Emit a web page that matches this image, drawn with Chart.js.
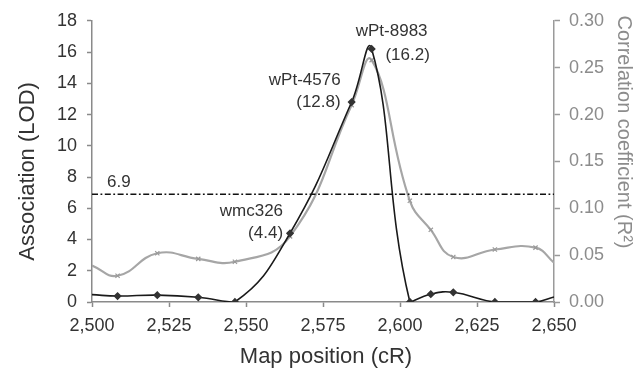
<!DOCTYPE html>
<html lang="en">
<head>
    <meta charset="UTF-8">
    <title>Association and correlation along map position</title>
    <script src="https://cdn.jsdelivr.net/npm/chart.js"></script>
    <style>
        html, body { margin: 0; padding: 0; background: #fff; }
        #wrap { width: 636px; height: 369px; }
    </style>
</head>
<body>
    <div id="wrap"><canvas id="lodChart" width="636" height="369"></canvas></div>

    <script>
        // Map positions (cR) shared by both series
        const positions = [2500, 2508.3, 2521.2, 2534.5, 2546.4, 2564.3, 2584.3, 2590.8, 2603.2, 2610, 2617.3, 2630.8, 2644, 2650];
        // Association (LOD), left axis
        const lodValues = [0.47, 0.38, 0.44, 0.3, 0, 4.4, 12.8, 16.2, 0, 0.5, 0.62, 0, 0, 0.32];
        // Correlation coefficient (R2), right axis
        const r2Values = [0.039, 0.028, 0.052, 0.046, 0.043, 0.07, 0.21, 0.258, 0.108, 0.077, 0.048, 0.056, 0.058, 0.042];
        // Significance threshold
        const thresholdX = [2500, 2650];
        const threshold = 6.9;
        // Marker labels: index into positions, name, value
        const markerIdx = [5, 6, 7];
        const markerNames = ['wmc326', 'wPt-4576', 'wPt-8983'];
        const markerLod = ['(4.4)', '(12.8)', '(16.2)'];
        // Axis ticks
        const xTicks = [2500, 2525, 2550, 2575, 2600, 2625, 2650];
        const lodTicks = [0, 2, 4, 6, 8, 10, 12, 14, 16, 18];
        const r2Ticks = [0, 0.05, 0.10, 0.15, 0.20, 0.25, 0.30];

        const FONT = '"Liberation Sans", Arial, sans-serif';
        const DARK = '#333333';
        const GREY = '#8c8c8c';

        const toPoints = (xs, ys) => xs.map((x, i) => ({ x: x, y: ys[i] }));
        const edgeRadius = (r) => positions.map((p, i) => (i === 0 || i === positions.length - 1) ? 0 : r);

        // Draws the axis titles, threshold label and marker labels
        const textPlugin = {
            id: 'texts',
            afterDraw(chart) {
                const ctx = chart.ctx;
                const area = chart.chartArea;
                const xs = chart.scales.x, ys = chart.scales.y;
                ctx.save();
                ctx.textBaseline = 'middle';

                // axis titles
                ctx.font = '22px ' + FONT;
                ctx.fillStyle = DARK;
                ctx.textAlign = 'center';
                ctx.fillText('Map position (cR)', (area.left + area.right) / 2 + 3, 357);

                ctx.save();
                ctx.translate(28, (area.top + area.bottom) / 2 + 10);
                ctx.rotate(-Math.PI / 2);
                ctx.fillText('Association (LOD)', 0, 0);
                ctx.restore();

                ctx.save();
                ctx.fillStyle = GREY;
                ctx.font = '20px ' + FONT;
                ctx.translate(624, 132);
                ctx.rotate(Math.PI / 2);
                ctx.fillText('Correlation coefficient (R\u00B2)', 0, 0);
                ctx.restore();

                // threshold label
                ctx.font = '17px ' + FONT;
                ctx.fillStyle = DARK;
                ctx.textAlign = 'left';
                ctx.fillText(String(threshold), area.left + 15, ys.getPixelForValue(threshold) - 12);

                // marker labels
                markerIdx.forEach((idx, k) => {
                    const px = xs.getPixelForValue(positions[idx]);
                    const py = ys.getPixelForValue(lodValues[idx]);
                    if (k === 2) {
                        ctx.textAlign = 'center';
                        ctx.fillText(markerNames[k], px + 20, py - 18);
                        ctx.fillText(markerLod[k], px + 36, py + 6);
                    } else {
                        ctx.textAlign = 'right';
                        const gap = k === 0 ? 7 : 11;
                        ctx.fillText(markerNames[k], px - gap, py - 22);
                        ctx.fillText(markerLod[k], px - gap, py);
                    }
                });
                ctx.restore();
            }
        };

        new Chart(document.getElementById('lodChart').getContext('2d'), {
            type: 'line',
            data: {
                datasets: [{
                    label: 'Threshold',
                    data: toPoints(thresholdX, [threshold, threshold]),
                    borderColor: '#111111',
                    borderWidth: 1.5,
                    borderDash: [6, 2.5, 1.8, 2.5],
                    pointRadius: 0,
                    tension: 0,
                    yAxisID: 'y'
                }, {
                    label: 'LOD',
                    data: toPoints(positions, lodValues),
                    borderColor: '#1a1a1a',
                    borderWidth: 1.6,
                    pointStyle: 'rectRot',
                    pointRadius: edgeRadius(3),
                    pointBackgroundColor: '#333333',
                    pointBorderColor: '#333333',
                    tension: 0.45,
                    yAxisID: 'y'
                }, {
                    label: 'R2',
                    data: toPoints(positions, r2Values),
                    borderColor: '#a6a6a6',
                    borderWidth: 2.2,
                    pointStyle: 'crossRot',
                    pointRadius: edgeRadius(3),
                    pointBorderColor: '#9a9a9a',
                    pointBorderWidth: 1.2,
                    tension: 0.45,
                    yAxisID: 'y1'
                }]
            },
            options: {
                responsive: false,
                animation: false,
                layout: { padding: { top: 20, bottom: 0, left: 0, right: 0 } },
                plugins: { legend: { display: false }, tooltip: { enabled: false } },
                scales: {
                    x: {
                        type: 'linear',
                        min: 2500,
                        max: 2650,
                        afterFit: (s) => { s.height = 67; },
                        afterBuildTicks: (s) => { s.ticks = xTicks.map(v => ({ value: v })); },
                        border: { color: '#8a8a8a', width: 1.5 },
                        grid: { drawOnChartArea: false, tickLength: 5, color: '#8a8a8a', tickWidth: 1.5 },
                        ticks: {
                            color: DARK,
                            padding: 8,
                            maxRotation: 0,
                            font: { family: FONT, size: 18 },
                            callback: (v) => v.toLocaleString('en-US')
                        }
                    },
                    y: {
                        position: 'left',
                        min: 0,
                        max: 18,
                        afterFit: (s) => { s.width = 92; },
                        afterBuildTicks: (s) => { s.ticks = lodTicks.map(v => ({ value: v })); },
                        border: { color: '#8a8a8a', width: 1.5 },
                        grid: { drawOnChartArea: false, tickLength: 5, color: '#8a8a8a', tickWidth: 1.5 },
                        ticks: { color: DARK, padding: 10, font: { family: FONT, size: 18 } }
                    },
                    y1: {
                        position: 'right',
                        min: 0,
                        max: 0.30,
                        afterFit: (s) => { s.width = 82; },
                        afterBuildTicks: (s) => { s.ticks = r2Ticks.map(v => ({ value: v })); },
                        border: { color: '#9a9a9a', width: 1.5 },
                        grid: { drawOnChartArea: false, tickLength: 6, color: '#9a9a9a', tickWidth: 1.5 },
                        ticks: {
                            color: GREY,
                            padding: 9,
                            font: { family: FONT, size: 18 },
                            callback: (v) => v.toFixed(2)
                        }
                    }
                }
            },
            plugins: [textPlugin]
        });
    </script>
</body>
</html>
